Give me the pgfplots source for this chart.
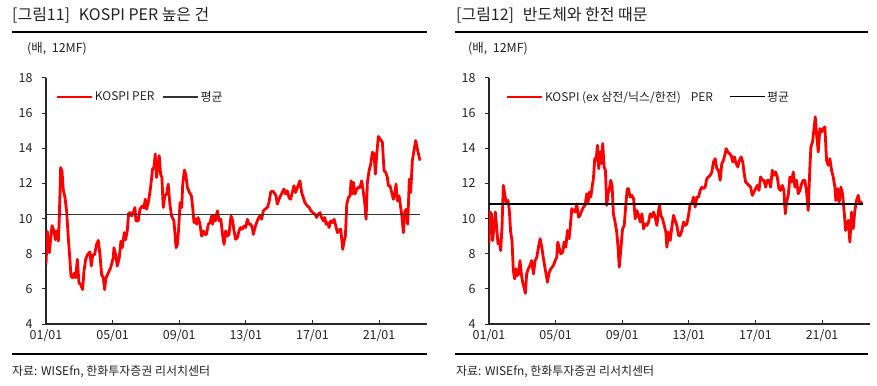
\documentclass[border=0pt]{standalone}
\usepackage{pgfplots}
\pgfplotsset{compat=1.18}
\usepackage{fontspec}
\setmainfont{Noto Sans CJK KR}
\definecolor{txt}{RGB}{35,35,35}
\definecolor{axc}{RGB}{40,40,40}
\begin{document}
\begin{tikzpicture}[x=1bp,y=1bp]
\path[use as bounding box] (0,0) rectangle (877,385);
\pgfplotsset{
  mystyle/.style={
    width=381bp, height=246bp, scale only axis,
    xmin=2001, xmax=2023.88, ymin=4, ymax=18,
    axis lines=left, axis line style={-, line width=1.1bp, axc},
    ytick={4,6,...,18}, xtick={2001,2005,2009,2013,2017,2021},
    xticklabels={01/01,05/01,09/01,13/01,17/01,21/01},
    tick align=inside,
    major tick length=4bp,
    tick style={line width=1bp, axc},
    y tick style={xshift=-4bp},
    /pgf/number format/assume math mode=true,
    ticklabel style={font=\fontsize{12.5}{14}\selectfont, text=txt},
    yticklabel style={xshift=-10bp},
    xticklabel style={yshift=-2bp},
    legend columns=2,
    legend style={draw=none, fill=none, inner sep=0pt, font=\fontsize{12}{13}\selectfont, text=txt,
      /tikz/every even column/.append style={column sep=6bp}},
    legend image code/.code={\draw[##1] (0bp,0bp) -- (35bp,0bp);},
  }
}
% ---------- Left chart ----------
\node[anchor=west, text=txt, font=\fontsize{16}{18}\selectfont, inner sep=0pt] at (12,370) {[그림11]\hspace{9bp}KOSPI PER 높은 건};
\draw[line width=1.2bp, black] (12,353) -- (427,353);
\node[anchor=west, text=txt, font=\fontsize{12.5}{14}\selectfont, inner sep=0pt] at (27,336) {(배,\ \ 12MF)};
\draw[line width=1.2bp, black] (12,31) -- (427,31);
\node[anchor=west, text=txt, font=\fontsize{12}{14}\selectfont, inner sep=0pt] at (12,13) {자료: WISEfn, 한화투자증권 리서치센터};
\begin{axis}[mystyle, at={(46bp,61bp)}, anchor=south west,
  legend style={at={(0,0.923)}, anchor=west, xshift=9bp}]
\addplot[red, line width=2.8bp, line join=round] coordinates {
(2001.0,7.4)(2001.08,9.26)(2001.2,8.06)(2001.36,9.6)(2001.48,9.3)(2001.56,8.8)(2001.64,9.3)(2001.74,8.72)(2001.8,10.06)(2001.88,12.9)(2001.96,12.7)
(2002.04,11.6)(2002.14,11.2)(2002.24,10.4)(2002.34,8.9)(2002.44,7.6)(2002.5,6.72)(2002.6,6.63)(2002.7,6.9)(2002.78,6.63)(2002.88,7.68)(2002.98,6.34)
(2003.08,6.25)(2003.2,5.96)(2003.28,7.0)(2003.38,7.68)(2003.5,7.96)(2003.64,8.1)(2003.72,7.3)(2003.8,7.9)(2003.92,7.96)
(2004.04,8.53)(2004.14,8.76)(2004.24,7.96)(2004.34,6.82)(2004.44,6.63)(2004.52,5.96)(2004.6,6.63)(2004.74,6.9)(2004.88,7.2)
(2005.04,7.77)(2005.08,8.34)(2005.2,7.87)(2005.28,7.3)(2005.4,7.77)(2005.5,8.72)(2005.58,8.34)(2005.7,9.2)(2005.78,8.8)(2005.88,9.3)(2005.96,10.29)
(2006.04,10.34)(2006.14,10.15)(2006.24,10.34)(2006.34,10.63)(2006.4,9.87)(2006.54,9.87)(2006.64,10.53)(2006.78,10.72)(2006.88,10.6)(2006.96,11.1)
(2007.04,10.53)(2007.16,11.0)(2007.28,11.77)(2007.4,12.82)(2007.48,12.9)(2007.56,13.68)(2007.64,12.34)(2007.72,13.0)(2007.8,13.58)(2007.88,12.53)(2007.96,12.34)
(2008.04,10.63)(2008.14,11.3)(2008.24,11.4)(2008.34,11.96)(2008.44,10.82)(2008.54,10.15)(2008.68,9.87)(2008.75,9.1)(2008.81,8.34)(2008.89,8.53)(2008.97,9.49)
(2009.05,10.91)(2009.15,10.63)(2009.21,11.96)(2009.31,12.76)(2009.39,12.53)(2009.49,11.77)(2009.61,11.5)(2009.73,11.3)(2009.81,10.63)(2009.89,9.77)(2009.99,9.96)
(2010.05,9.68)(2010.13,10.06)(2010.23,9.77)(2010.35,9.0)(2010.45,9.3)(2010.53,9.1)(2010.63,9.1)(2010.75,9.68)(2010.85,9.77)(2010.95,10.15)
(2011.0,9.68)(2011.08,10.15)(2011.18,9.87)(2011.29,10.44)(2011.4,9.87)(2011.5,9.96)(2011.6,9.1)(2011.69,8.53)(2011.79,9.3)(2011.89,9.0)(2011.99,9.1)
(2012.11,10.15)(2012.21,9.87)(2012.29,9.3)(2012.39,8.82)(2012.49,8.91)(2012.59,9.3)(2012.69,9.49)(2012.79,9.4)(2012.89,9.58)(2012.99,9.49)
(2013.09,9.96)(2013.19,9.68)(2013.29,9.68)(2013.39,9.49)(2013.45,9.1)(2013.55,9.49)(2013.65,9.77)(2013.77,10.06)(2013.85,10.15)(2013.95,9.96)
(2014.05,10.44)(2014.15,10.53)(2014.29,10.63)(2014.39,10.91)(2014.49,11.49)(2014.59,11.58)(2014.69,11.49)(2014.81,11.3)(2014.89,10.82)(2014.99,11.1)
(2015.09,11.3)(2015.19,11.49)(2015.29,11.68)(2015.39,11.4)(2015.49,11.58)(2015.59,11.2)(2015.69,11.1)(2015.79,11.49)(2015.89,11.87)(2015.99,11.49)
(2016.1,11.77)(2016.17,11.96)(2016.25,12.15)(2016.35,11.49)(2016.45,11.2)(2016.55,10.91)(2016.69,10.72)(2016.81,10.63)(2016.91,10.44)
(2017.01,10.34)(2017.15,10.25)(2017.25,10.06)(2017.35,10.25)(2017.45,10.34)(2017.55,10.06)(2017.66,9.87)(2017.74,10.06)(2017.82,9.68)(2017.92,9.77)
(2018.0,9.49)(2018.1,9.87)(2018.2,9.77)(2018.3,9.96)(2018.4,9.58)(2018.5,9.2)(2018.6,9.3)(2018.7,9.4)(2018.76,8.82)(2018.82,8.25)(2018.9,8.72)(2018.98,9.0)
(2019.06,10.82)(2019.16,11.2)(2019.26,11.3)(2019.32,12.15)(2019.4,11.4)(2019.46,12.06)(2019.56,11.4)(2019.66,11.68)(2019.76,11.77)(2019.86,11.77)(2019.96,12.15)
(2020.06,11.49)(2020.16,10.72)(2020.22,9.96)(2020.3,12.06)(2020.4,12.72)(2020.5,13.1)(2020.6,13.77)(2020.7,13.68)(2020.78,12.53)(2020.86,13.68)(2020.96,14.67)
(2021.06,14.53)(2021.2,14.34)(2021.3,12.72)(2021.4,12.63)(2021.5,12.34)(2021.56,11.87)(2021.66,11.87)(2021.76,11.49)(2021.86,11.1)(2021.96,11.49)
(2022.02,11.96)(2022.1,11.0)(2022.2,11.3)(2022.3,10.63)(2022.36,10.25)(2022.46,9.2)(2022.56,10.44)(2022.66,10.53)(2022.72,9.68)(2022.82,12.25)(2022.9,11.49)
(2023.0,13.3)(2023.1,13.87)(2023.2,14.44)(2023.3,13.96)(2023.46,13.3)
};
\addlegendentry{KOSPI PER}
\addplot[black!80, line width=1.3bp] coordinates {(2001,10.25)(2023.46,10.25)};
\addlegendentry{평균}
\end{axis}
% ---------- Right chart ----------
\node[anchor=west, text=txt, font=\fontsize{16}{18}\selectfont, inner sep=0pt] at (456,370) {[그림12]\hspace{9bp}반도체와 한전 때문};
\draw[line width=1.2bp, black] (455,353) -- (868,353);
\node[anchor=west, text=txt, font=\fontsize{12.5}{14}\selectfont, inner sep=0pt] at (468,336) {(배,\ \ 12MF)};
\draw[line width=1.2bp, black] (455,31) -- (868,31);
\node[anchor=west, text=txt, font=\fontsize{12}{14}\selectfont, inner sep=0pt] at (456,13) {자료: WISEfn, 한화투자증권 리서치센터};
\begin{axis}[mystyle, at={(489bp,61bp)}, anchor=south west,
  legend style={at={(0,0.923)}, anchor=west, xshift=16bp, /tikz/every even column/.append style={column sep=14bp}}]
\addplot[red, line width=2.8bp, line join=round] coordinates {
(2001.0,8.56)(2001.06,10.37)(2001.14,10.27)(2001.22,8.75)(2001.3,9.51)(2001.38,10.37)(2001.46,9.51)(2001.54,8.56)(2001.62,8.75)(2001.7,8.18)(2001.78,9.51)(2001.86,11.89)(2001.94,11.41)
(2002.02,10.94)(2002.14,11.03)(2002.22,10.46)(2002.3,9.23)(2002.38,8.75)(2002.46,7.04)(2002.54,6.57)(2002.62,7.14)(2002.7,6.76)(2002.78,6.85)(2002.86,7.61)(2002.94,6.85)
(2003.02,6.38)(2003.1,6.09)(2003.18,5.75)(2003.26,6.85)(2003.36,7.14)(2003.46,7.33)(2003.56,7.61)(2003.67,6.85)(2003.77,7.61)(2003.87,7.8)(2003.97,8.37)
(2004.07,8.85)(2004.17,8.37)(2004.27,7.71)(2004.39,7.04)(2004.51,6.38)(2004.59,6.85)(2004.71,7.14)(2004.87,7.33)(2004.97,7.61)
(2005.07,7.8)(2005.13,8.66)(2005.23,8.28)(2005.31,7.99)(2005.43,8.09)(2005.51,8.66)(2005.61,8.37)(2005.71,9.32)(2005.81,8.85)(2005.87,9.42)(2005.97,10.56)
(2006.07,10.46)(2006.17,10.37)(2006.27,10.84)(2006.37,10.08)(2006.47,10.18)(2006.57,10.46)(2006.67,10.65)(2006.77,10.75)(2006.87,11.41)(2006.95,10.94)
(2007.03,11.51)(2007.11,11.22)(2007.19,11.79)(2007.27,12.27)(2007.35,13.41)(2007.43,13.32)(2007.51,14.17)(2007.59,12.84)(2007.67,13.79)(2007.75,13.13)(2007.83,14.27)(2007.91,12.94)(2007.99,12.75)
(2008.07,10.75)(2008.15,11.41)(2008.23,11.7)(2008.31,12.18)(2008.39,11.89)(2008.47,10.27)(2008.57,9.8)(2008.67,9.23)(2008.75,8.37)(2008.82,7.23)(2008.92,8.28)
(2009.02,9.42)(2009.12,9.61)(2009.22,10.84)(2009.3,11.7)(2009.38,11.7)(2009.48,11.22)(2009.58,11.32)(2009.68,11.13)(2009.78,9.99)(2009.88,10.46)(2009.98,10.18)
(2010.08,9.8)(2010.18,10.27)(2010.28,9.42)(2010.38,9.7)(2010.48,9.61)(2010.58,9.8)(2010.68,10.27)(2010.78,10.08)(2010.88,10.37)(2010.98,10.08)
(2011.08,9.61)(2011.18,10.46)(2011.24,10.75)(2011.32,10.18)(2011.42,9.99)(2011.52,9.61)(2011.62,9.23)(2011.68,8.37)(2011.78,9.23)(2011.88,8.75)(2011.98,9.51)
(2012.08,10.18)(2012.18,9.89)(2012.28,9.61)(2012.38,9.04)(2012.48,9.04)(2012.58,9.32)(2012.68,9.8)(2012.78,9.61)(2012.88,9.7)(2012.98,10.18)
(2013.08,10.84)(2013.18,10.84)(2013.28,11.22)(2013.38,10.65)(2013.48,11.22)(2013.58,11.22)(2013.68,11.6)(2013.78,11.79)(2013.88,11.7)(2013.98,11.79)
(2014.08,12.27)(2014.18,12.37)(2014.28,12.46)(2014.38,12.65)(2014.48,13.22)(2014.58,13.41)(2014.68,12.84)(2014.78,12.75)(2014.88,12.18)(2014.98,13.13)
(2015.08,13.32)(2015.18,13.7)(2015.24,13.98)(2015.34,13.79)(2015.44,13.7)(2015.54,13.6)(2015.64,13.22)(2015.74,13.51)(2015.84,13.13)(2015.94,12.94)
(2016.04,13.32)(2016.14,13.51)(2016.24,13.22)(2016.31,12.65)(2016.41,12.08)(2016.51,11.98)(2016.61,11.89)(2016.71,11.79)(2016.81,11.32)(2016.91,11.51)
(2017.01,11.7)(2017.11,11.89)(2017.21,11.6)(2017.31,12.37)(2017.41,12.18)(2017.51,12.18)(2017.61,11.79)(2017.71,12.18)(2017.81,12.18)(2017.91,11.79)
(2018.01,12.75)(2018.11,12.46)(2018.21,12.65)(2018.31,12.37)(2018.41,11.7)(2018.51,11.6)(2018.61,11.89)(2018.71,11.6)(2018.79,10.27)(2018.87,10.94)(2018.97,11.32)
(2019.07,12.37)(2019.17,12.08)(2019.27,12.65)(2019.37,11.79)(2019.47,12.18)(2019.57,11.41)(2019.67,11.6)(2019.77,11.98)(2019.87,12.18)(2019.97,12.18)
(2020.07,11.51)(2020.17,10.46)(2020.27,12.94)(2020.33,14.08)(2020.43,14.36)(2020.53,15.22)(2020.59,15.79)(2020.67,14.84)(2020.77,13.79)(2020.87,15.12)(2020.97,14.93)
(2021.07,15.12)(2021.17,15.22)(2021.27,13.32)(2021.37,13.03)(2021.47,13.41)(2021.57,12.75)(2021.67,12.37)(2021.77,11.79)(2021.83,11.03)(2021.93,11.7)
(2022.03,10.94)(2022.13,11.79)(2022.23,11.41)(2022.33,10.37)(2022.41,9.32)(2022.47,9.7)(2022.57,9.89)(2022.67,8.66)(2022.77,10.37)(2022.87,9.42)(2022.97,10.46)
(2023.07,11.03)(2023.17,11.32)(2023.27,10.84)(2023.43,10.94)
};
\addlegendentry{KOSPI (ex 삼전/닉스/한전)\hspace{10bp}PER}
\addplot[black, line width=1.1bp] coordinates {(2001,10.83)(2023.43,10.83)};
\addlegendentry{평균}
\end{axis}
\end{tikzpicture}
\end{document}
